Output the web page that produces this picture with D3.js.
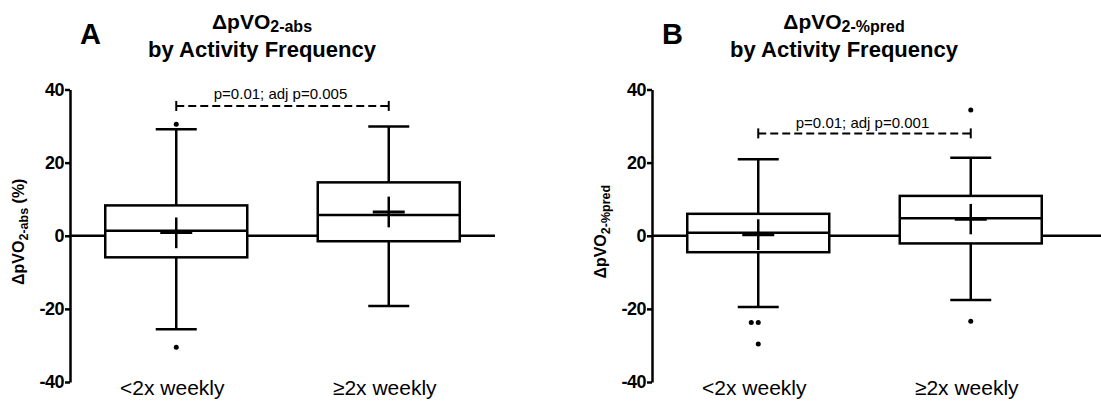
<!DOCTYPE html>
<html>
<head>
<meta charset="utf-8">
<script src="https://cdn.jsdelivr.net/npm/d3@7"></script>
<style>
  body { margin: 0; background: #fff; }
  text { font-family: "Liberation Sans", Arial, sans-serif; fill: #000; }
</style>
</head>
<body>
<div id="chart"></div>
<script>
// categories shared by both panels
const categories = ["<2x weekly", "\u22652x weekly"];
const yTicks = [-40, -20, 0, 20, 40];

// panel A: delta pVO2 absolute (%)
const absLow = [-25.6, -19.2];
const absQ1 = [-5.9, -1.5];
const absMedian = [1.4, 5.7];
const absQ3 = [8.3, 14.6];
const absHigh = [29.1, 29.9];
const absMean = [0.9, 6.5];
const absMeanLo = [-3.4, 2.3];
const absMeanHi = [5.0, 10.7];
const absOutliers = [[30.5, -30.5], []];
const absSigLevel = 35.5;
const absSigText = "p=0.01; adj p=0.005";

// panel B: delta pVO2 % predicted
const predLow = [-19.5, -17.6];
const predQ1 = [-4.5, -2.1];
const predMedian = [0.8, 4.8];
const predQ3 = [6.0, 10.9];
const predHigh = [20.9, 21.3];
const predMean = [0.3, 4.5];
const predMeanLo = [-3.9, 0.4];
const predMeanHi = [4.5, 8.7];
const predOutliers = [[-23.7, -23.7, -29.6], [-23.4, 34.4]];
const predSigLevel = 28.0;
const predSigText = "p=0.01; adj p=0.001";

var svg = d3.select("#chart")
    .append("svg")
    .attr("width", 1101)
    .attr("height", 403);

var y = d3.scaleLinear()
    .domain([-40, 40])
    .range([382, 89.5]);

function drawPanel(p) {
    var g = svg.append("g");
    var x = d3.scaleBand()
        .domain(categories)
        .range([p.axisX, p.axisX + 425]);
    var cx = (i) => x(categories[i]) + x.bandwidth() / 2;
    var boxW = 142, capW = 41, meanW = 32;

    // zero line behind the boxes
    g.append("line")
        .attr("x1", p.axisX).attr("x2", p.lineEnd)
        .attr("y1", y(0)).attr("y2", y(0))
        .attr("stroke", "#000").attr("stroke-width", 2.5);

    categories.forEach(function (c, i) {
        var xc = cx(i);
        // whisker stems
        g.append("line")
            .attr("x1", xc).attr("x2", xc)
            .attr("y1", y(p.low[i])).attr("y2", y(p.high[i]))
            .attr("stroke", "#000").attr("stroke-width", 2.5);
        // caps
        [p.low[i], p.high[i]].forEach(function (v) {
            g.append("line")
                .attr("x1", xc - capW / 2).attr("x2", xc + capW / 2)
                .attr("y1", y(v)).attr("y2", y(v))
                .attr("stroke", "#000").attr("stroke-width", 2.5);
        });
        // box
        g.append("rect")
            .attr("x", xc - boxW / 2)
            .attr("y", y(p.q3[i]))
            .attr("width", boxW)
            .attr("height", y(p.q1[i]) - y(p.q3[i]))
            .attr("fill", "#fff")
            .attr("stroke", "#000").attr("stroke-width", 2.5);
        // median
        g.append("line")
            .attr("x1", xc - boxW / 2).attr("x2", xc + boxW / 2)
            .attr("y1", y(p.median[i])).attr("y2", y(p.median[i]))
            .attr("stroke", "#000").attr("stroke-width", 2.5);
        // mean cross
        g.append("line")
            .attr("x1", xc - meanW / 2).attr("x2", xc + meanW / 2)
            .attr("y1", y(p.mean[i])).attr("y2", y(p.mean[i]))
            .attr("stroke", "#000").attr("stroke-width", 3);
        g.append("line")
            .attr("x1", xc).attr("x2", xc)
            .attr("y1", y(p.meanLo[i])).attr("y2", y(p.meanHi[i]))
            .attr("stroke", "#000").attr("stroke-width", 2.5);
        // outliers, repeated values are set side by side
        var seen = {};
        p.outliers[i].forEach(function (v) {
            var n = p.outliers[i].filter(d => d === v).length;
            seen[v] = (seen[v] || 0) + 1;
            var dx = (seen[v] - n) * 7;
            g.append("circle")
                .attr("cx", xc + dx).attr("cy", y(v))
                .attr("r", 2.5).attr("fill", "#000");
        });
        // category label
        g.append("text")
            .attr("x", xc - 4).attr("y", 395)
            .attr("text-anchor", "middle")
            .style("font-size", "21px")
            .text(c);
    });

    // y axis
    var axis = g.append("g")
        .attr("transform", `translate(${p.axisX},0)`)
        .call(d3.axisLeft(y).tickValues(yTicks).tickSize(5).tickSizeOuter(0)
            .tickFormat(d => String(d)));
    axis.select(".domain").attr("stroke", "#000").attr("stroke-width", 2.5);
    axis.selectAll(".tick line").attr("stroke", "#000").attr("stroke-width", 2.5);
    axis.selectAll(".tick text")
        .attr("x", -6)
        .style("font-size", "18px")
        .style("font-weight", "bold")
        .style("font-family", "'Liberation Sans', Arial, sans-serif")
        .style("letter-spacing", "-0.5px");

    // y axis title
    var yt = g.append("text")
        .attr("transform", `translate(${p.axisX - 46},${y(0) - 4}) rotate(-90)`)
        .attr("text-anchor", "middle")
        .style("font-size", "16px")
        .style("font-weight", "bold");
    yt.append("tspan").text("\u0394pVO");
    yt.append("tspan").attr("dy", 4).style("font-size", "12.5px").text(p.sub);
    if (p.unit) yt.append("tspan").attr("dy", -4).text(p.unit);

    // significance bracket
    var x1 = cx(0), x2 = cx(1), ys = y(p.sigLevel);
    g.append("line")
        .attr("x1", x1).attr("x2", x2).attr("y1", ys).attr("y2", ys)
        .attr("stroke", "#000").attr("stroke-width", 2)
        .attr("stroke-dasharray", "8,4");
    [x1, x2].forEach(function (xx) {
        g.append("line")
            .attr("x1", xx).attr("x2", xx).attr("y1", ys - 5).attr("y2", ys + 5)
            .attr("stroke", "#000").attr("stroke-width", 2);
    });
    g.append("text")
        .attr("x", (x1 + x2) / 2 - 2).attr("y", ys - p.sigGap)
        .attr("text-anchor", "middle")
        .style("font-size", "15px")
        .text(p.sigText);

    // panel letter and title
    g.append("text")
        .attr("x", p.axisX + 10).attr("y", 44)
        .style("font-size", "29px").style("font-weight", "bold")
        .text(p.letter);
    var t1 = g.append("text")
        .attr("x", p.axisX + 192).attr("y", 29)
        .attr("text-anchor", "middle")
        .style("font-size", "21px").style("font-weight", "bold");
    t1.append("tspan").text("\u0394pVO");
    t1.append("tspan").attr("dy", 3).style("font-size", "16px").text(p.sub);
    g.append("text")
        .attr("x", p.axisX + 192).attr("y", 57)
        .attr("text-anchor", "middle")
        .style("font-size", "22px").style("font-weight", "bold")
        .text("by Activity Frequency");
}

drawPanel({
    axisX: 70, lineEnd: 495, letter: "A", sub: "2-abs", unit: " (%)",
    low: absLow, q1: absQ1, median: absMedian, q3: absQ3, high: absHigh,
    mean: absMean, meanLo: absMeanLo, meanHi: absMeanHi, outliers: absOutliers,
    sigLevel: absSigLevel, sigText: absSigText, sigGap: 7
});

drawPanel({
    axisX: 652, lineEnd: 1101, letter: "B", sub: "2-%pred", unit: "",
    low: predLow, q1: predQ1, median: predMedian, q3: predQ3, high: predHigh,
    mean: predMean, meanLo: predMeanLo, meanHi: predMeanHi, outliers: predOutliers,
    sigLevel: predSigLevel, sigText: predSigText, sigGap: 5
});
</script>
</body>
</html>
